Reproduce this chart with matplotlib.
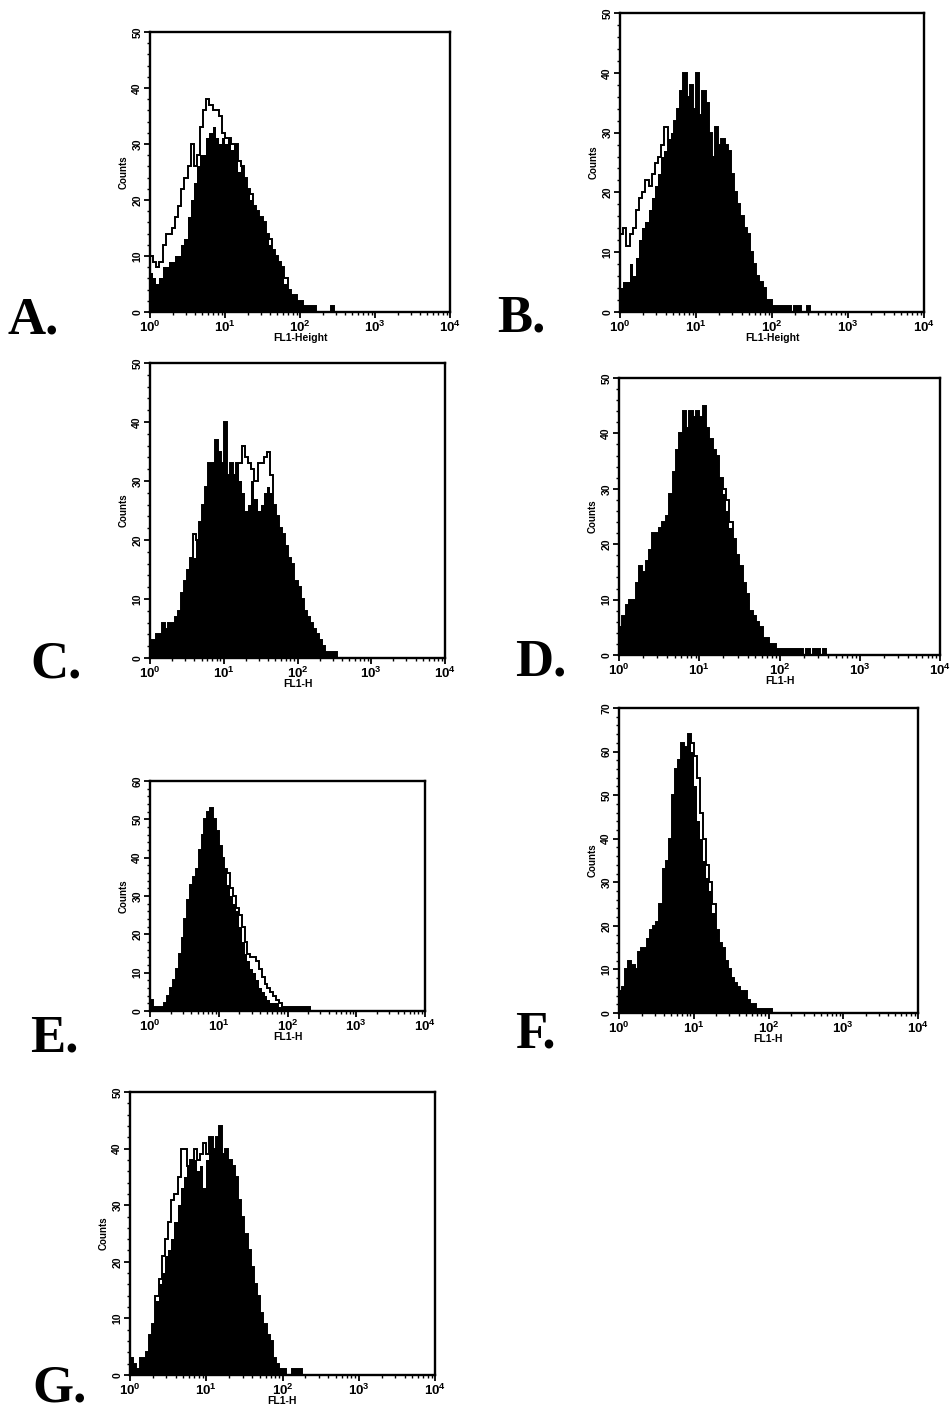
import numpy as np
import matplotlib
matplotlib.use('Agg')
import matplotlib.pyplot as plt
from matplotlib.ticker import MultipleLocator, LogLocator, NullFormatter

plt.rcParams['font.family'] = ['Liberation Sans', 'DejaVu Sans']
plt.rcParams['font.weight'] = 'bold'
plt.rcParams['mathtext.default'] = 'bf'

# channels per decade of the FL1 log scale
CH_PER_DEC = 24

# counts per channel (filled histogram / outline histogram)
a_fill = [7, 6, 5, 6, 8, 8, 9, 9, 10, 10, 12, 13, 17, 20, 23, 26, 28, 28, 31, 32,
          33, 31, 30, 31, 30, 31, 29, 30, 25, 26, 24, 22, 20, 19, 18, 17, 16, 14, 12, 11,
          10, 9, 8, 5, 4, 3, 3, 2, 2, 1, 1, 1, 1, 0, 0, 0, 0, 0, 1, 0]
a_line = [10, 9, 8, 9, 12, 14, 14, 15, 17, 19, 22, 24, 26, 30, 26, 28, 33, 36, 38, 37,
          36, 36, 35, 32, 31, 31, 30, 30, 27, 26, 24, 22, 21, 19, 18, 17, 16, 14, 13, 11,
          10, 9, 8, 6, 4, 3, 3, 2, 2, 1, 1, 1, 1, 0, 0, 0, 0, 0, 1, 0]

b_fill = [4, 5, 5, 8, 6, 9, 12, 14, 15, 17, 19, 21, 23, 26, 27, 29, 30, 32, 34, 37,
          40, 36, 38, 34, 40, 33, 37, 35, 30, 26, 31, 28, 29, 28, 27, 23, 20, 18, 16, 14,
          13, 10, 8, 6, 5, 4, 2, 2, 1, 1, 1, 1, 1, 1, 0, 1, 1, 0, 0, 1, 0]
b_line = [13, 14, 11, 13, 14, 17, 19, 20, 22, 21, 23, 25, 26, 28, 31, 26, 28, 32, 34, 37,
          40, 36, 38, 34, 40, 33, 37, 35, 30, 26, 31, 28, 29, 28, 27, 23, 20, 18, 16, 14,
          13, 10, 8, 6, 5, 4, 2, 2, 1, 1, 1, 1, 1, 1, 0, 1, 1, 0, 0, 1, 0]

c_fill = [3, 3, 4, 4, 6, 5, 6, 6, 7, 8, 11, 13, 15, 17, 17, 20, 23, 26, 29, 33,
          33, 37, 35, 33, 40, 31, 33, 31, 33, 30, 28, 25, 26, 30, 27, 25, 26, 28, 29, 28,
          26, 24, 22, 21, 19, 17, 16, 13, 12, 10, 8, 7, 6, 5, 4, 3, 2, 1, 1, 1, 1, 0]
c_line = [3, 3, 4, 4, 6, 5, 6, 6, 7, 8, 11, 13, 15, 17, 21, 20, 23, 26, 29, 33,
          33, 37, 35, 33, 40, 31, 33, 31, 33, 33, 36, 34, 33, 32, 30, 33, 33, 34, 35, 31,
          26, 24, 22, 21, 19, 17, 16, 13, 12, 10, 8, 7, 6, 5, 4, 3, 2, 1, 1, 1, 1, 0]

d_fill = [5, 7, 9, 10, 10, 13, 16, 15, 17, 19, 22, 22, 23, 24, 25, 29, 33, 37, 40, 44,
          41, 44, 43, 44, 43, 45, 41, 39, 37, 36, 32, 29, 26, 23, 21, 18, 16, 13, 11, 8,
          7, 6, 5, 3, 3, 2, 2, 1, 1, 1, 1, 1, 1, 1, 1, 0, 1, 0, 1, 1, 0, 1, 0]
d_line = [5, 7, 9, 10, 10, 13, 16, 15, 17, 19, 22, 22, 23, 24, 25, 29, 33, 37, 40, 44,
          41, 44, 43, 44, 43, 45, 41, 39, 37, 36, 32, 30, 28, 24, 21, 18, 16, 13, 11, 8,
          7, 6, 5, 3, 3, 2, 2, 1, 1, 1, 1, 1, 1, 1, 1, 0, 1, 0, 1, 1, 0, 1, 0]

e_fill = [3, 1, 1, 1, 1, 2, 4, 6, 8, 11, 15, 19, 24, 29, 33, 35, 37, 42, 46, 50,
          52, 53, 50, 47, 43, 40, 37, 33, 30, 28, 26, 22, 18, 15, 13, 11, 10, 8, 6, 5,
          4, 3, 2, 2, 2, 1, 1, 1, 1, 1, 1, 1, 1, 1, 1, 1, 0]
e_line = [3, 1, 1, 1, 1, 2, 4, 6, 8, 11, 15, 19, 24, 29, 33, 35, 37, 42, 46, 50,
          52, 53, 50, 47, 43, 40, 37, 36, 32, 30, 27, 25, 22, 18, 15, 14, 14, 13, 11, 9,
          7, 6, 5, 4, 3, 2, 1, 1, 1, 1, 1, 1, 1, 1, 1, 1, 0]

f_fill = [5, 6, 10, 12, 11, 10, 14, 15, 15, 17, 19, 20, 21, 25, 33, 35, 40, 50, 56, 58,
          62, 61, 64, 60, 52, 44, 40, 35, 31, 28, 23, 19, 16, 15, 12, 10, 8, 7, 6, 5,
          5, 3, 2, 2, 1, 1, 1, 1, 1, 0]
f_line = [5, 6, 10, 12, 11, 10, 14, 15, 15, 17, 19, 20, 21, 25, 33, 35, 40, 50, 56, 58,
          62, 61, 64, 62, 59, 54, 46, 40, 34, 30, 25, 19, 16, 15, 12, 10, 8, 7, 6, 5,
          5, 3, 2, 2, 1, 1, 1, 1, 1, 0]

g_fill = [3, 2, 1, 3, 3, 4, 7, 9, 13, 16, 18, 21, 22, 24, 27, 30, 33, 35, 37, 38,
          38, 36, 37, 33, 38, 42, 40, 42, 44, 39, 40, 38, 37, 35, 31, 28, 25, 22, 19, 16,
          14, 11, 9, 7, 6, 3, 2, 1, 1, 0, 0, 1, 1, 1, 0]
g_line = [3, 2, 1, 3, 3, 4, 7, 9, 14, 17, 21, 24, 27, 31, 32, 35, 40, 40, 37, 38,
          40, 38, 39, 41, 39, 42, 40, 42, 44, 39, 40, 38, 37, 35, 31, 28, 25, 22, 19, 16,
          14, 11, 9, 7, 6, 3, 2, 1, 1, 0, 0, 1, 1, 1, 0]

labels = ['A.', 'B.', 'C.', 'D.', 'E.', 'F.', 'G.']
xlabels = ['FL1-Height', 'FL1-Height', 'FL1-H', 'FL1-H', 'FL1-H', 'FL1-H', 'FL1-H']
ymax = [50, 50, 50, 50, 60, 70, 50]
fills = [a_fill, b_fill, c_fill, d_fill, e_fill, f_fill, g_fill]
lines = [a_line, b_line, c_line, d_line, e_line, f_line, g_line]

# panel boxes in pixels: left, right, top, bottom ; letter: left, baseline
W, H = 951, 1412
boxes = [(150, 450, 32, 312), (620, 924, 13, 312), (150, 445, 363, 658),
         (619, 940, 378, 655), (150, 425, 781, 1011), (619, 918, 708, 1013),
         (130, 435, 1092, 1375)]
letter_pos = [(7, 333), (497, 331), (30, 678), (515, 675), (30, 1052), (515, 1048), (32, 1401)]

fig = plt.figure(figsize=(W / 100, H / 100), dpi=100)

for k in range(7):
    l, r, t, b = boxes[k]
    ax = fig.add_axes([l / W, 1 - b / H, (r - l) / W, (b - t) / H])
    fv = np.array(fills[k], dtype=float)
    lv = np.array(lines[k], dtype=float)
    edges_f = 10 ** (np.arange(len(fv) + 1) / CH_PER_DEC)
    edges_l = 10 ** (np.arange(len(lv) + 1) / CH_PER_DEC)
    ax.stairs(fv, edges_f, fill=True, color='black', linewidth=0)
    ax.stairs(lv, edges_l, color='black', linewidth=1.4)
    ax.set_xscale('log')
    ax.set_xlim(1, 1e4)
    ax.set_ylim(0, ymax[k])
    ax.xaxis.set_major_locator(LogLocator(base=10, numticks=5))
    ax.xaxis.set_minor_locator(LogLocator(base=10, subs=np.arange(2, 10), numticks=10))
    ax.xaxis.set_minor_formatter(NullFormatter())
    ax.yaxis.set_major_locator(MultipleLocator(10))
    ax.yaxis.set_minor_locator(MultipleLocator(2))
    for s in ax.spines.values():
        s.set_linewidth(1.7)
    ax.tick_params(which='major', length=4, width=1.3, pad=1.5)
    ax.tick_params(which='minor', length=2, width=1.0)
    ax.tick_params(axis='x', labelsize=9.5)
    ax.tick_params(axis='y', labelsize=7.5)
    for lab in ax.get_yticklabels():
        lab.set_rotation(90)
        lab.set_va('center')
        lab.set_fontweight('bold')
    ax.set_xlabel(xlabels[k], fontsize=7.5, fontweight='bold', labelpad=-1)
    ax.set_ylabel('Counts', fontsize=7, fontweight='bold', labelpad=3)
    lx, ly = letter_pos[k]
    fig.text(lx / W, 1 - ly / H, labels[k], fontsize=38, fontweight='bold',
             family='Liberation Serif', ha='left', va='baseline')

fig.savefig('out.png', dpi=100)
